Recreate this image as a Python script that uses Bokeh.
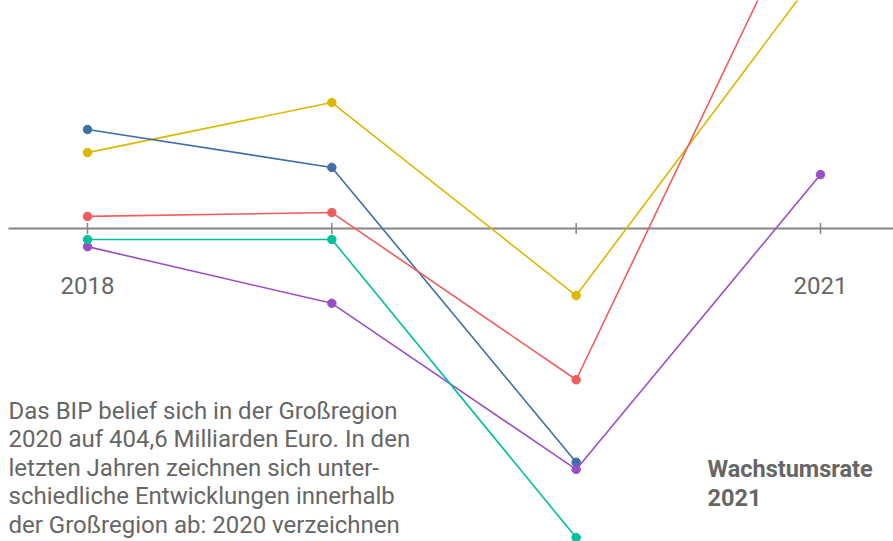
from bokeh.plotting import figure
from bokeh.models import Label
from bokeh.core.properties import value
from bokeh.embed import file_html
from bokeh.resources import INLINE

# ---- data (growth rates, %) ----
years = [2018, 2019, 2020, 2021]
series_blue = [1.80, 1.11, -4.25]
series_teal = [-0.20, -0.20, -5.62]
series_red = [0.22, 0.29, -2.75, 6.53]
series_yellow = [1.38, 2.29, -1.22, 4.71]
series_purple = [-0.33, -1.36, -4.38, 0.98]
tick_label_years = [2018, 2021]
tick_labels = ["2018", "2021"]

body_lines = [
    "Das BIP belief sich in der Großregion",
    "2020 auf 404,6 Milliarden Euro. In den",
    "letzten Jahren zeichnen sich unter-",
    "schiedliche Entwicklungen innerhalb",
    "der Großregion ab: 2020 verzeichnen",
]
side_title = ["Wachstumsrate", "2021"]

W, H = 893, 541
px_per_year = 244.33
x0_px = 87
px_per_unit = 55.0
zero_px = 228
left_px = 8

x_start = 2018 - x0_px / px_per_year
x_end = 2018 + (W - x0_px) / px_per_year

p = figure(width=W, height=H, output_backend="svg", toolbar_location=None,
           x_range=(x_start, x_end),
           y_range=(-(H - zero_px) / px_per_unit, zero_px / px_per_unit),
           x_axis_location=None, y_axis_location=None,
           min_border=0, outline_line_color=None, background_fill_color="white",
           border_fill_color="white")
p.grid.visible = False

# baseline and ticks
p.segment(x0=[x_start + left_px / px_per_year], x1=[x_end], y0=[0], y1=[0],
          line_color="#858585", line_width=2)
p.segment(x0=years, x1=years, y0=[-0.1] * len(years), y1=[0.1] * len(years),
          line_color="#858585", line_width=1.5)
p.text(x=tick_label_years, y=[0] * len(tick_label_years), text=tick_labels,
       y_offset=57, text_align="center", text_baseline="middle",
       text_font=value("Roboto"), text_font_size="24px", text_color="#666666")

series = [
    (series_yellow, "#dcb800"),
    (series_blue, "#3f6fa6"),
    (series_red, "#f25c5c"),
    (series_purple, "#9a4fc6"),
    (series_teal, "#00c19c"),
]
for vals, col in series:
    xs = years[:len(vals)]
    p.line(xs, vals, line_color=col, line_width=1.6)
    p.scatter(xs, vals, size=8.5, fill_color=col, line_color=col)

# body text
line_h = 28.5
first_y = H - 410
for i, t in enumerate(body_lines):
    p.add_layout(Label(x=left_px, y=first_y - i * line_h, x_units="screen", y_units="screen",
                       text=t, text_font="Roboto", text_font_size="24px",
                       text_color="#666666", text_baseline="middle"))

for i, t in enumerate(side_title):
    p.add_layout(Label(x=707, y=H - 468 - i * 28.5, x_units="screen", y_units="screen",
                       text=t, text_font="Roboto", text_font_size="23.5px",
                       text_font_style="bold", text_color="#666666",
                       text_baseline="middle"))

open("out.html", "w").write(file_html(p, INLINE))
